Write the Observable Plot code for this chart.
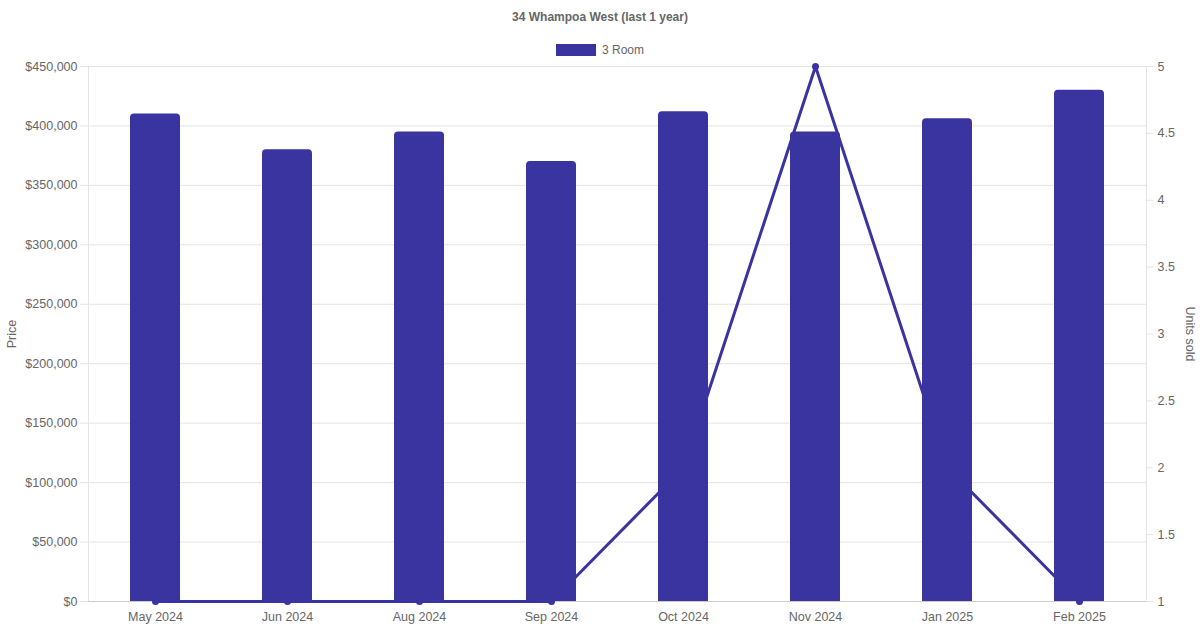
<!DOCTYPE html>
<html>
<head>
<meta charset="utf-8">
<script src="https://cdn.jsdelivr.net/npm/d3@7"></script>
<script src="https://cdn.jsdelivr.net/npm/@observablehq/plot@0.6"></script>
<style>
  body { margin: 0; background: #fff; font-family: "Liberation Sans", Arial, sans-serif; }
  #title { height: 34px; line-height: 34px; text-align: center; font-size: 12px; font-weight: bold; color: #666; }
  #legend { height: 24px; box-sizing: border-box; padding-top: 10px; display: flex; justify-content: center; align-items: flex-start; font-size: 12px; color: #666; }
  #legend .sw { width: 40px; height: 12px; background: #3a34a0; margin: 0 6px 0 0; }
  #legend span { line-height: 12px; }
</style>
</head>
<body>
<div id="title">34 Whampoa West (last 1 year)</div>
<div id="legend"><div class="sw"></div><span>3 Room</span></div>
<div id="chart"></div>
<script>
const months = ['May 2024', 'Jun 2024', 'Aug 2024', 'Sep 2024', 'Oct 2024', 'Nov 2024', 'Jan 2025', 'Feb 2025']
const prices = [410000, 380000, 395000, 370000, 412000, 395000, 406000, 430000]
const units = [1, 1, 1, 1, 2, 5, 2, 1]
const priceTicks = [0, 50000, 100000, 150000, 200000, 250000, 300000, 350000, 400000, 450000]
const unitTicks = [1, 1.5, 2, 2.5, 3, 3.5, 4, 4.5, 5]

// units sold share the price scale: 1..5 maps onto 0..450000
const toPrice = u => (u - 1) / 4 * 450000
const fromPrice = p => +(p / 450000 * 4 + 1).toFixed(1)

const data = months.map((m, i) => ({month: m, price: prices[i], units: units[i]}))
const color = '#3a34a0'

const chart = Plot.plot({
  width: 1200,
  height: 572,
  marginTop: 8,
  marginBottom: 29,
  marginLeft: 88,
  marginRight: 54,
  style: {fontFamily: '"Liberation Sans", Arial, sans-serif', fontSize: '12px', color: '#666', background: '#fff'},
  x: {type: 'band', domain: months, paddingInner: 0.622, paddingOuter: 0.311, label: null},
  y: {domain: [0, 450000], label: null},
  marks: [
    Plot.gridY(priceTicks, {stroke: '#e5e5e5', strokeOpacity: 1}),
    Plot.frame({stroke: '#e5e5e5'}),
    Plot.axisY({ticks: priceTicks, tickFormat: d => '$' + d3.format(',')(d), tickSize: 8, tickPadding: 3, stroke: '#e5e5e5', fill: '#666', fontSize: 12.5, label: null}),
    Plot.axisY({anchor: 'right', ticks: unitTicks.map(toPrice), tickFormat: fromPrice, tickSize: 6, tickPadding: 5, stroke: '#e5e5e5', fill: '#666', fontSize: 12.5, label: null}),
    Plot.axisX({tickSize: 0, tickPadding: 11, fill: '#666', fontSize: 12.5, label: null}),
    Plot.text(['Price'], {frameAnchor: 'left', textAnchor: 'middle', dx: -77, rotate: -90, fill: '#666', fontSize: 12.5}),
    Plot.text(['Units sold'], {frameAnchor: 'right', textAnchor: 'middle', dx: 43, rotate: 90, fill: '#666', fontSize: 12.5}),
    Plot.ruleY([0], {stroke: '#ccc'}),
    Plot.line(data, {x: 'month', y: d => toPrice(d.units), stroke: color, strokeWidth: 3}),
    Plot.dot(data, {x: 'month', y: d => toPrice(d.units), fill: color, r: 3.5}),
    Plot.barY(data, {x: 'month', y: 'price', fill: color, rx: 4}),
    Plot.barY(data, {x: 'month', y: d => d.price / 2, fill: color})
  ]
})
d3.select('#chart').append(() => chart)
</script>
</body>
</html>
